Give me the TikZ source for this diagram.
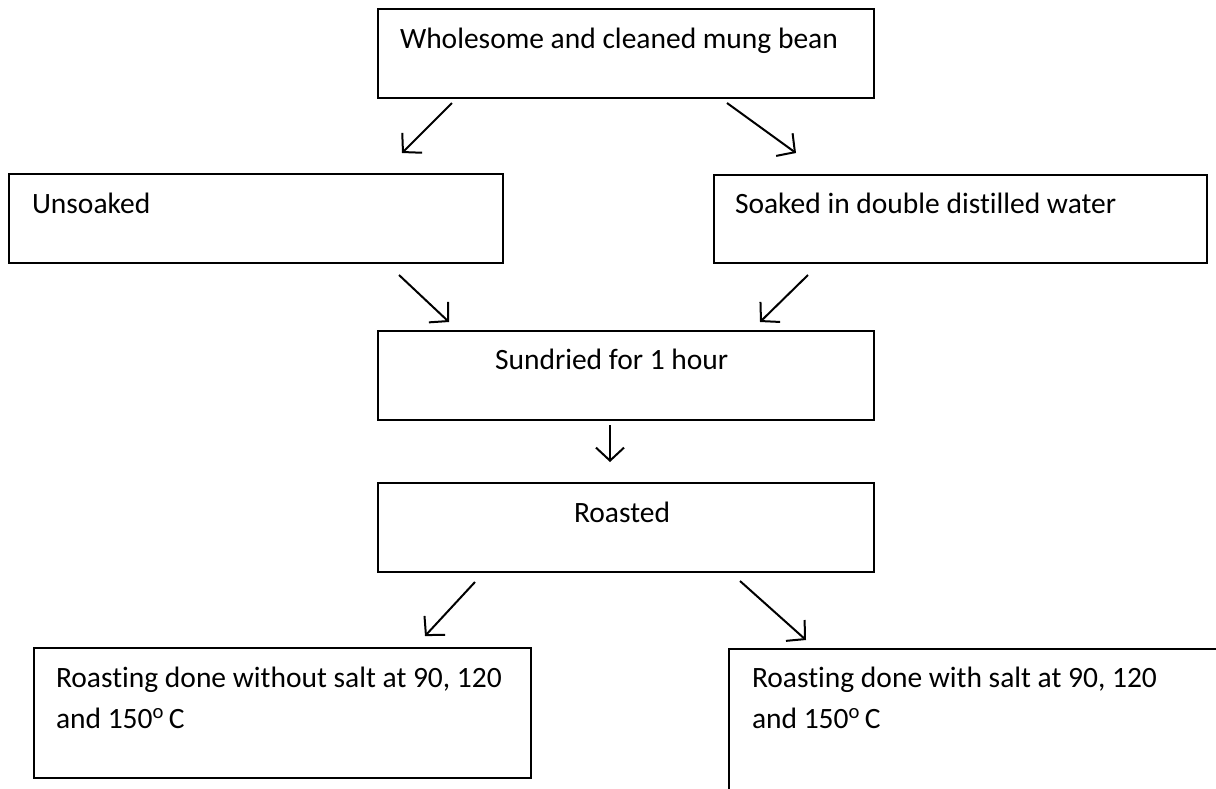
\documentclass[tikz,border=0pt]{standalone}
\usepackage{fontspec}
\setmainfont{Carlito}[Ligatures={NoCommon}]
\usetikzlibrary{arrows.meta}
\tikzset{
  box/.style={draw, line width=1.8pt, rectangle, inner sep=0pt, outer sep=0pt, anchor=north west},
  txt/.style={inner sep=0pt, outer sep=0pt, anchor=base west, font=\fontsize{29.5}{41}\selectfont},
  arr/.style={line width=2pt, -{Straight Barb[length=13pt,width=28pt]}}
}
\begin{document}
\begin{tikzpicture}[x=1pt,y=-1pt]
\clip (0,0) rectangle (1216,788);
\fill[white] (0,0) rectangle (1216,788);
% boxes
\node[box, minimum width=496pt, minimum height=89pt] (b1) at (378,9) {};
\node[box, minimum width=494pt, minimum height=89pt] (b2) at (9,174) {};
\node[box, minimum width=493pt, minimum height=88pt] (b3) at (714,175) {};
\node[box, minimum width=496pt, minimum height=89pt] (b4) at (378,331) {};
\node[box, minimum width=496pt, minimum height=89pt] (b5) at (378,483) {};
\node[box, minimum width=497pt, minimum height=130pt] (b6) at (34,648) {};
\node[box, minimum width=520pt, minimum height=170pt] (b7) at (729,649) {};
% texts
\node[txt] (t1) at (400,48) {Wholesome and cleaned mung bean};
\node[txt] (t2) at (32,213) {Unsoaked};
\node[txt] (t3) at (735,213) {Soaked in double distilled water};
\node[txt] (t4) at (495,369) {Sundried for 1 hour};
\node[txt] (t5) at (574,522) {Roasted};
\node[txt] (t6a) at (56,687) {Roasting done without salt at 90, 120};
\node[txt] (t6b) at (56,728) {and 150\textsuperscript{o}\,C};
\node[txt] (t7a) at (752,687) {Roasting done with salt at 90, 120};
\node[txt] (t7b) at (752,728) {and 150\textsuperscript{o}\,C};
% arrow end points
\coordinate (a1s) at (452,103); \coordinate (a1e) at (402,153);
\coordinate (a2s) at (727,103); \coordinate (a2e) at (796,153);
\coordinate (a3s) at (399,275); \coordinate (a3e) at (449,322);
\coordinate (a4s) at (808,275); \coordinate (a4e) at (760,322);
\coordinate (a5s) at (610,425); \coordinate (a5e) at (610,462);
\coordinate (a6s) at (475,582); \coordinate (a6e) at (425,636);
\coordinate (a7s) at (740,581); \coordinate (a7e) at (806,640);
\draw[arr] (a1s) -- (a1e);
\draw[arr] (a2s) -- (a2e);
\draw[arr] (a3s) -- (a3e);
\draw[arr] (a4s) -- (a4e);
\draw[arr] (a5s) -- (a5e);
\draw[arr] (a6s) -- (a6e);
\draw[arr] (a7s) -- (a7e);
\end{tikzpicture}
\end{document}
